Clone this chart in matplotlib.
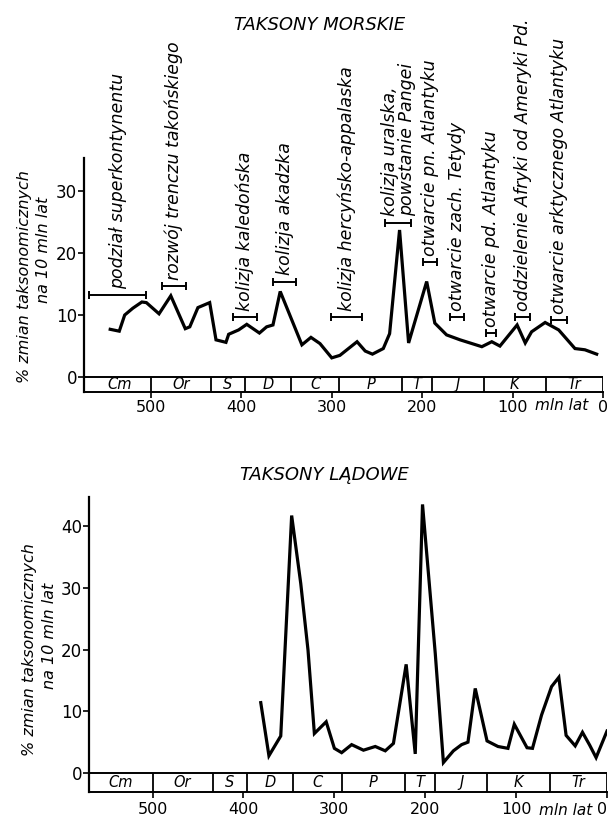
import matplotlib
matplotlib.use('Agg')
from matplotlib import pyplot as plt

# geological periods (strip under both charts), boundaries in mln lat
periods = ['Cm', 'Or', 'S', 'D', 'C', 'P', 'T', 'J', 'K', 'Tr']
period_edges = [570, 500, 434, 396, 345, 292, 222, 189, 132, 63, 0]

# marine taxa, % change per 10 mln years
marine_age = [545, 535, 529, 520, 510, 505, 491, 478, 462, 457, 448, 435,
              428, 417, 414, 403, 394, 380, 372, 365, 357, 333, 323, 313,
              300, 291, 272, 263, 255, 243, 236, 225, 215, 195, 186, 173,
              158, 134, 123, 114, 95, 86, 79, 64, 49, 31, 20, 7]
marine_val = [7.7, 7.4, 10.0, 11.1, 12.1, 12.0, 10.2, 13.1, 7.8, 8.1, 11.2,
              12.0, 6.0, 5.6, 6.9, 7.6, 8.5, 7.1, 8.1, 8.4, 13.8, 5.2, 6.4,
              5.4, 3.1, 3.5, 5.7, 4.2, 3.7, 4.6, 7.0, 23.7, 5.5, 15.4, 8.7,
              6.8, 6.0, 4.9, 5.7, 5.0, 8.4, 5.5, 7.3, 8.8, 7.6, 4.6, 4.4, 3.7]

# land taxa
land_age = [381, 372, 359, 347, 337, 329, 322, 309, 300, 292, 281, 268, 255,
            244, 235, 221, 211, 203, 189, 180, 169, 160, 153, 145, 132, 120,
            109, 102, 88, 82, 72, 61, 53, 45, 35, 27, 19, 12, 0]
land_val = [11.4, 2.8, 6.0, 41.7, 30.7, 19.9, 6.4, 8.3, 4.0, 3.3, 4.6, 3.7,
            4.3, 3.6, 4.8, 17.6, 3.1, 43.5, 19.4, 1.7, 3.6, 4.6, 5.0, 13.7,
            5.2, 4.3, 4.0, 7.9, 4.1, 4.0, 9.4, 14.0, 15.5, 6.1, 4.4, 6.6,
            4.5, 2.5, 6.8]

# tectonic events on the marine chart: time span and level of the marker
events = ['podział superkontynentu', 'rozwój trenczu takońskiego',
          'kolizja kaledońska', 'kolizja akadzka',
          'kolizja hercyńsko-appalaska',
          'kolizja uralska,\npowstanie Pangei', 'otwarcie pn. Atlantyku',
          'otwarcie zach. Tetydy', 'otwarcie pd. Atlantyku',
          'oddzielenie Afryki od Ameryki Pd.',
          'otwarcie arktycznego Atlantyku']
event_start = [568, 488, 409, 365, 301, 241, 199, 169, 129, 97, 57]
event_end = [505, 461, 383, 339, 266, 212, 184, 154, 118, 81, 40]
event_level = [13.2, 14.6, 9.7, 15.4, 9.7, 24.9, 18.5, 9.7, 7.1, 9.7, 9.2]

W, H = 610, 819
fig = plt.figure(figsize=(W / 100, H / 100), dpi=100)


def period_strip(ax, depth):
    ax.axhline(0, color='k', lw=1.4)
    ax.vlines(period_edges[1:], -depth, 0, color='k', lw=1.3)
    for i, name in enumerate(periods):
        mid = (period_edges[i] + period_edges[i + 1]) / 2
        ax.text(mid, -depth / 2, name, ha='center', va='center',
                fontsize=10.5, style='italic')


def setup(ax, xmax, ymax, depth, yticks, pad, unit_y, zero_ha):
    ax.set_xlim(xmax, 0)
    ax.set_ylim(-depth, ymax)
    for s in ['top', 'right']:
        ax.spines[s].set_visible(False)
    ax.spines['left'].set_linewidth(1.6)
    ax.spines['bottom'].set_linewidth(1.4)
    ax.set_yticks(yticks)
    ax.set_yticklabels([str(t) for t in yticks])
    ax.set_xticks([500, 400, 300, 200, 100, 0])
    ax.set_xticklabels(['500', '400', '300', '200', '100', '0'])
    ax.get_xticklabels()[-1].set_horizontalalignment(zero_ha)
    ax.tick_params(axis='y', direction='out', length=4, width=1.2,
                   labelsize=12, pad=1)
    ax.tick_params(axis='x', direction='out', length=4, width=1.2,
                   labelsize=11.5, pad=pad)
    period_strip(ax, depth)
    ax.text(46, unit_y, 'mln lat', ha='center', va='center', fontsize=11,
            style='italic', transform=ax.get_xaxis_transform())


# marine chart
ax1 = fig.add_axes([84 / W, 1 - 392 / H, 519 / W, 234 / H])
setup(ax1, 574, 35.3, 2.4, [0, 10, 20, 30], 1.5, -0.058, 'center')
ax1.plot(marine_age, marine_val, color='k', lw=2.3, solid_joinstyle='miter')
for lab, a, b, lev in zip(events, event_start, event_end, event_level):
    c = (a + b) / 2
    ax1.errorbar([c], [lev], xerr=[(a - b) / 2], fmt='none', ecolor='k',
                 elinewidth=1.4, capsize=3, capthick=1.4)
    ax1.text(c, lev + 1.0, lab, rotation=90, ha='center', va='bottom',
             multialignment='left', fontsize=12.5, style='italic',
             linespacing=0.95)

# land chart
ax2 = fig.add_axes([89 / W, 1 - 792 / H, 518 / W, 295 / H])
setup(ax2, 570, 44.7, 3.07, [0, 10, 20, 30, 40], 3, -0.062, 'right')
ax2.plot(land_age, land_val, color='k', lw=2.3, solid_joinstyle='miter')

# titles and axis labels
fig.text(320 / W, 1 - 25 / H, 'TAKSONY MORSKIE', ha='center', va='center',
         fontsize=13, style='italic')
fig.text(324 / W, 1 - 475 / H, 'TAKSONY LĄDOWE', ha='center', va='center',
         fontsize=13, style='italic')
fig.text(25 / W, 1 - 277 / H, '% zmian taksonomicznych', rotation=90,
         ha='center', va='center', fontsize=11.5, style='italic')
fig.text(43 / W, 1 - 250 / H, 'na 10 mln lat', rotation=90,
         ha='center', va='center', fontsize=11.5, style='italic')
fig.text(30 / W, 1 - 650 / H, '% zmian taksonomicznych', rotation=90,
         ha='center', va='center', fontsize=11.5, style='italic')
fig.text(50 / W, 1 - 636 / H, 'na 10 mln lat', rotation=90,
         ha='center', va='center', fontsize=11.5, style='italic')

fig.savefig('out.png', dpi=100)
